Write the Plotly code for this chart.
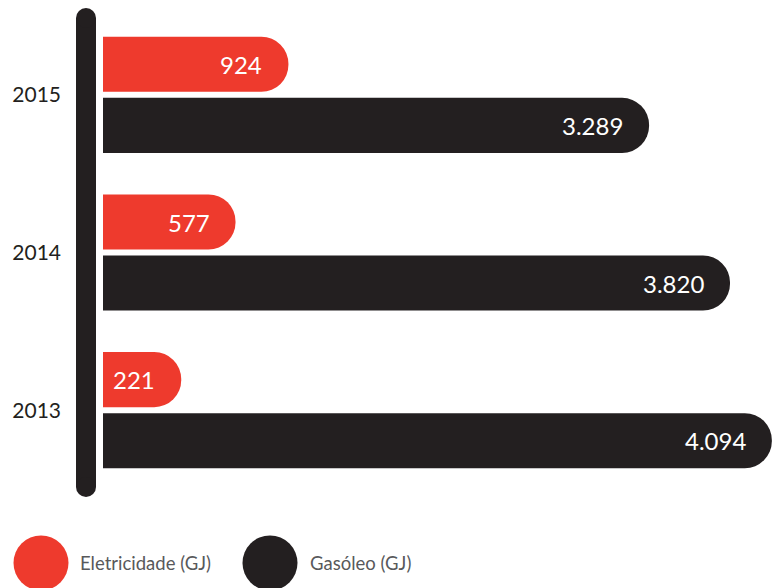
import plotly.graph_objects as go

years = ["2013", "2014", "2015"]
eletricidade = [221, 577, 924]
gasoleo = [4094, 3820, 3289]
labels_ele = ["221", "577", "924"]
labels_gas = ["4.094", "3.820", "3.289"]
series_names = ["Eletricidade (GJ)", "Gasóleo (GJ)"]

RED = "#EE3A2D"
BLACK = "#231F20"
GRAY = "#58595B"
FONT = "Lato"

# the original artwork draws bars from a common origin left of zero;
# bars start off-axis and are clipped at the plot's left edge
X_MIN = -292
X_MAX = 4200
BAR_BASE = -800

fig = go.Figure()
fig.add_trace(go.Bar(
    y=years, x=[v - BAR_BASE for v in gasoleo], base=BAR_BASE, orientation="h",
    name=series_names[1], marker=dict(color=BLACK, cornerradius="50%", line=dict(width=0)),
    hoverinfo="skip", showlegend=False,
))
fig.add_trace(go.Bar(
    y=years, x=[v - BAR_BASE for v in eletricidade], base=BAR_BASE, orientation="h",
    name=series_names[0], marker=dict(color=RED, cornerradius="50%", line=dict(width=0)),
    hoverinfo="skip", showlegend=False,
))

annotations = []
for i, (v, t) in enumerate(zip(eletricidade, labels_ele)):
    annotations.append(dict(x=v, y=i, xref="x", yref="y", text=t, showarrow=False,
                            xanchor="right", yanchor="middle", xshift=-24, yshift=30.5,
                            font=dict(family=FONT, size=24, color="white")))
for i, (v, t) in enumerate(zip(gasoleo, labels_gas)):
    annotations.append(dict(x=v, y=i, xref="x", yref="y", text=t, showarrow=False,
                            xanchor="right", yanchor="middle", xshift=-24, yshift=-30.5,
                            font=dict(family=FONT, size=24, color="white")))

# legend texts
annotations.append(dict(x=0, y=1, xref="paper", yref="paper", text=series_names[0],
                        showarrow=False, xanchor="left", yanchor="middle",
                        xshift=-25, yshift=-547,
                        font=dict(family=FONT, size=18.5, color=GRAY)))
annotations.append(dict(x=0, y=1, xref="paper", yref="paper", text=series_names[1],
                        showarrow=False, xanchor="left", yanchor="middle",
                        xshift=205, yshift=-547,
                        font=dict(family=FONT, size=18.5, color=GRAY)))

def pshape(kind, x0, x1, y0, y1, color):
    return dict(type=kind, xref="paper", yref="paper", xsizemode="pixel", ysizemode="pixel",
                xanchor=0, yanchor=1, x0=x0, x1=x1, y0=y0, y1=y1,
                fillcolor=color, line=dict(width=0), layer="above")

shapes = [
    pshape("rect", -27, -7, -471, -2, BLACK),
    pshape("circle", -27, -7, -12, 8, BLACK),
    pshape("circle", -27, -7, -481, -461, BLACK),
    pshape("circle", -89.5, -34.5, -574.5, -519.5, RED),
    pshape("circle", 139.5, 194.5, -574.5, -519.5, BLACK),
]

fig.update_layout(
    width=780, height=588,
    margin=dict(l=95, r=0, t=8, b=107),
    paper_bgcolor="white", plot_bgcolor="white",
    barmode="group", bargap=0.225, bargroupgap=0.098,
    xaxis=dict(range=[X_MIN, X_MAX], visible=False, fixedrange=True),
    yaxis=dict(type="category", categoryorder="array", categoryarray=years,
               range=[-0.5, 2.5], autorange=False,
               showgrid=False, zeroline=False, showline=False, ticks="",
               ticklabelstandoff=41,
               tickfont=dict(family=FONT, size=21, color=BLACK)),
    annotations=annotations, shapes=shapes, showlegend=False,
)

fig.write_html("out.html")
